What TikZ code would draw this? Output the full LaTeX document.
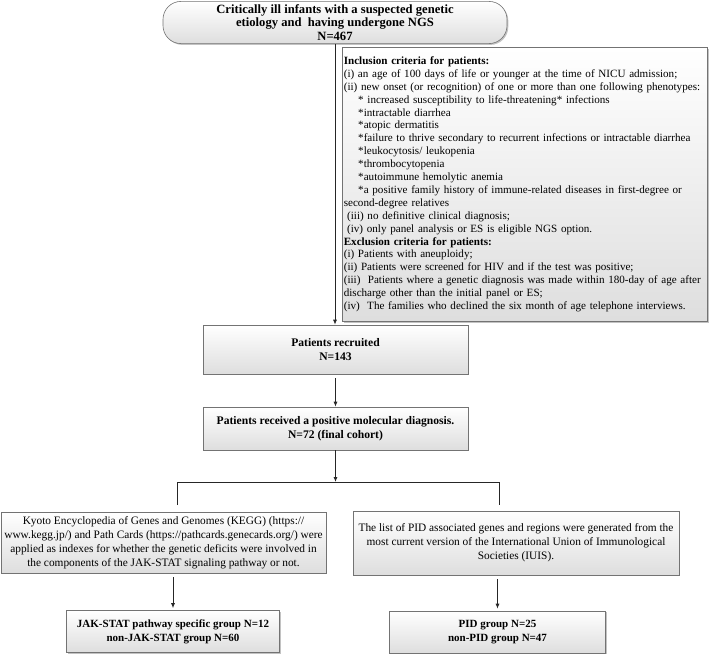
\documentclass[tikz,border=0pt]{standalone}
\usepackage{fontspec}
\setmainfont{Liberation Serif}
\usetikzlibrary{shadows,arrows.meta}
\begin{document}
\begin{tikzpicture}[x=1pt,y=-1pt,
 box/.style={draw=black!55, line width=0.6pt, top color=white, bottom color=black!13,
   drop shadow={shadow xshift=1.3pt, shadow yshift=-1.3pt, fill=black!40, opacity=0.6},
   inner sep=3pt, align=center},
 boldtxt/.style={font=\bfseries\fontsize{11}{14}\selectfont},
 midtxt/.style={font=\bfseries\fontsize{11.6}{14}\selectfont},
 plaintxt/.style={font=\fontsize{11.35}{14}\selectfont},
 conn/.style={draw=black!85, line width=0.8pt},
 arr/.style={conn, -{Latex[length=5pt,width=4pt]}}
]
\useasboundingbox (0,0) rectangle (709,656);

\node[box, rounded corners=18pt, minimum width=344pt, minimum height=41pt,
 font=\bfseries\fontsize{12.6}{13.6}\selectfont] (top) at (335,22.5)
 {Critically ill infants with a suspected genetic\\ etiology and\ \ having undergone NGS\\ N=467};

\node[box, anchor=north west, minimum width=365pt, minimum height=274pt, text width=362pt,
 inner xsep=1.5pt, align=left,
 font=\fontsize{11.1}{12.9}\selectfont] (crit) at (342,47)
 {\textbf{Inclusion criteria for patients:}\\
 (i) an age of 100 days of life or younger at the time of NICU admission;\\
 (ii) new onset (or recognition) of one or more than one following phenotypes:\\
 \hspace*{1.3em}* increased susceptibility to life-threatening* infections\\
 \hspace*{1.3em}*intractable diarrhea\\
 \hspace*{1.3em}*atopic dermatitis\\
 \hspace*{1.3em}*failure to thrive secondary to recurrent infections or intractable diarrhea\\
 \hspace*{1.3em}*leukocytosis/ leukopenia\\
 \hspace*{1.3em}*thrombocytopenia\\
 \hspace*{1.3em}*autoimmune hemolytic anemia\\
 \hspace*{1.3em}*a positive family history of immune-related diseases in first-degree or\\
 second-degree relatives\\
 \hspace*{0.3em}(iii) no definitive clinical diagnosis;\\
 \hspace*{0.3em}(iv) only panel analysis or ES is eligible NGS option.\\
 \textbf{Exclusion criteria for patients:}\\
 (i) Patients with aneuploidy;\\
 (ii) Patients were screened for HIV and if the test was positive;\\
 (iii)\ \ Patients where a genetic diagnosis was made within 180-day of age after\\
 discharge other than the initial panel or ES;\\
 (iv)\ \ The families who declined the six month of age telephone interviews.};

\node[box, midtxt, minimum width=265pt, minimum height=49pt] (rec) at (335.5,349.5)
 {Patients recruited\\N=143};
\node[box, midtxt, minimum width=265pt, minimum height=43pt] (diag) at (335.5,428.5)
 {Patients received a positive molecular diagnosis.\\N=72 (final cohort)};

\node[box, plaintxt, inner xsep=1pt, minimum width=325pt, minimum height=61pt] (kegg) at (163.5,542.5)
 {Kyoto Encyclopedia of Genes and Genomes (KEGG) (https://\\
 www.kegg.jp/) and Path Cards (https://pathcards.genecards.org/) were\\
 applied as indexes for whether the genetic deficits were involved in\\
 the components of the JAK-STAT signaling pathway or not.};
\node[box, plaintxt, minimum width=326pt, minimum height=64pt] (pid) at (516,543)
 {The list of PID associated genes and regions were generated from the\\
 most current version of the International Union of Immunological\\
 Societies (IUIS).};

\node[box, boldtxt, minimum width=213pt, minimum height=42pt] (jak) at (173,631.5)
 {JAK-STAT pathway specific group N=12\\non-JAK-STAT group N=60};
\node[box, boldtxt, minimum width=216pt, minimum height=42pt] (pidg) at (497.5,632)
 {PID group N=25\\non-PID group N=47};

\coordinate (split) at (335.5,482);
\coordinate (bl) at (177,482);
\coordinate (br) at (499,482);
\coordinate (bl2) at (177,505);
\coordinate (br2) at (499,505);

\draw[arr] (top.south) -- (top.south |- rec.north);
\draw[arr, shorten <=4pt] (rec.south) -- (diag.north);
\draw[arr] (diag.south) -- (split);
\draw[conn] (bl2) -- (bl) -- (br) -- (br2);
\draw[arr, shorten <=4pt, shorten >=2pt] (jak.north |- kegg.south) -- (jak.north);
\draw[arr, shorten <=4pt, shorten >=2pt] (pidg.north |- pid.south) -- (pidg.north);
\end{tikzpicture}
\end{document}
